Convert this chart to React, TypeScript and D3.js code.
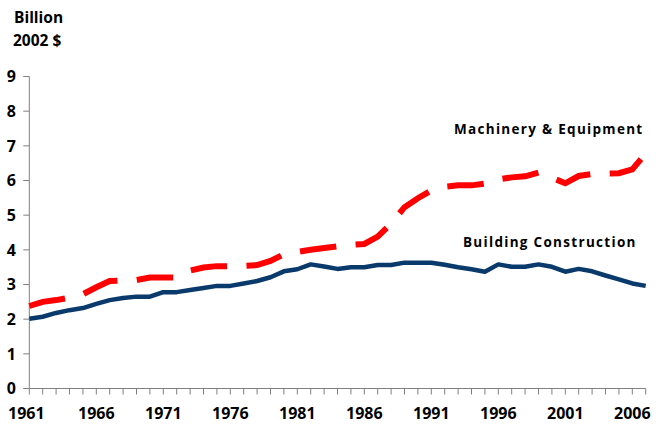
import * as d3 from "d3";

const years = d3.range(1961, 2008);
const building = [
  2.01, 2.07, 2.18, 2.26, 2.32, 2.44, 2.55, 2.61, 2.65, 2.65,
  2.78, 2.78, 2.84, 2.9, 2.96, 2.96, 3.03, 3.1, 3.21, 3.38,
  3.44, 3.58, 3.52, 3.45, 3.5, 3.5, 3.56, 3.56, 3.63, 3.63,
  3.63, 3.57, 3.5, 3.44, 3.37, 3.58, 3.51, 3.51, 3.58, 3.51,
  3.37, 3.45, 3.38, 3.26, 3.15, 3.03, 2.96,
];
const machinery = [
  2.38, 2.5, 2.55, 2.62, 2.72, 2.92, 3.1, 3.12, 3.13, 3.2,
  3.2, 3.2, 3.4, 3.49, 3.53, 3.53, 3.54, 3.56, 3.68, 3.87,
  3.94, 4.0, 4.05, 4.1, 4.14, 4.17, 4.38, 4.76, 5.23, 5.49,
  5.71, 5.82, 5.86, 5.86, 5.91, 6.03, 6.09, 6.12, 6.23, 6.08,
  5.92, 6.13, 6.19, 6.2, 6.21, 6.32, 6.78,
];
const yTicks = d3.range(0, 10);
const xLabels = [1961, 1966, 1971, 1976, 1981, 1986, 1991, 1996, 2001, 2006];

const width = 658;
const height = 426;
const font = "'Open Sans', 'DejaVu Sans', sans-serif";

export default function App() {
  const x = d3.scaleLinear([1961, 2007], [29.3, 645.7]);
  const y = d3.scaleLinear([0, 9], [388.5, 76.5]);
  const line = d3.line<number>((_, i) => x(years[i]), (d) => y(d));

  return (
    <svg
      width={width}
      height={height}
      style={{ position: "absolute", left: 0, top: 0, background: "#fff" }}
      fontFamily={font}
      fontWeight={700}
    >
      <text x={14} y={23} fontSize={15.5}>Billion</text>
      <text x={13} y={46} fontSize={15.5}>2002 $</text>

      {/* y axis */}
      <g stroke="#808080" strokeWidth={1}>
        <line x1={x(1961)} x2={x(1961)} y1={y(9)} y2={y(0)} />
        {yTicks.map((t) => (
          <line key={t} x1={x(1961) - 6} x2={x(1961)} y1={y(t)} y2={y(t)} />
        ))}
      </g>
      <g fontSize={16} textAnchor="end">
        {yTicks.map((t) => (
          <text key={t} x={16} y={y(t)} dy="0.36em">{t}</text>
        ))}
      </g>

      {/* x axis */}
      <g stroke="#808080" strokeWidth={1}>
        <line x1={x(1961)} x2={x(2007)} y1={y(0)} y2={y(0)} />
        {years.map((yr) => (
          <line key={yr} x1={x(yr)} x2={x(yr)} y1={y(0)} y2={y(0) + 6} />
        ))}
      </g>
      <g fontSize={16} textAnchor="middle">
        {xLabels.map((yr) => (
          <text key={yr} x={yr === 1961 ? x(yr) - 3 : x(yr)} y={419}>{yr}</text>
        ))}
      </g>

      <path d={line(building)} fill="none" stroke="#0a3a6b" strokeWidth={4.5} strokeLinejoin="round" />
      <path
        d={line(machinery)}
        fill="none"
        stroke="#ff0000"
        strokeWidth={6}
        strokeDasharray="36.6 19.4"
      />

      <text x={454} y={134} fontSize={13.5} letterSpacing={1.3}>Machinery &amp; Equipment</text>
      <text x={463} y={247} fontSize={13.5} letterSpacing={1.3}>Building Construction</text>
    </svg>
  );
}
